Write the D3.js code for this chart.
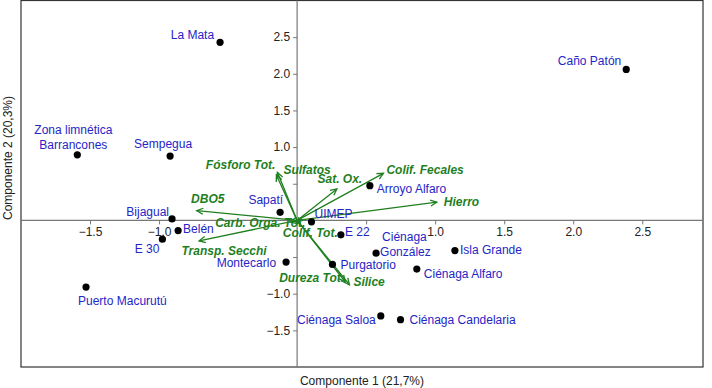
<!DOCTYPE html>
<html>
<head>
<meta charset="utf-8">
<script src="https://cdn.jsdelivr.net/npm/d3@7"></script>
<style>
  body { margin: 0; background: #fff; }
  svg { display: block; font-family: "Liberation Sans", Arial, sans-serif; }
</style>
</head>
<body>
<svg id="chart" width="712" height="388"></svg>
<script>
// sites (PCA scores)
const siteNames = ['La Mata', 'Caño Patón', 'Zona limnética\nBarrancones', 'Sempegua', 'Sapatí',
    'Bijagual', 'Belén', 'E 30', 'Puerto Macurutú', 'Montecarlo', 'UIMEP', 'E 22', 'Arroyo Alfaro',
    'Purgatorio', 'Ciénaga\nGonzález', 'Isla Grande', 'Ciénaga Alfaro', 'Ciénaga Saloa', 'Ciénaga Candelaria'];
const siteX = [-0.558, 2.384, -1.592, -0.92, -0.123, -0.906, -0.862, -0.976, -1.529, -0.08, 0.104, 0.317,
    0.527, 0.256, 0.572, 1.143, 0.867, 0.606, 0.749];
const siteY = [2.43, 2.06, 0.895, 0.877, 0.11, 0.02, -0.139, -0.256, -0.909, -0.569, -0.02, -0.197,
    0.474, -0.601, -0.447, -0.411, -0.664, -1.303, -1.354];

// variables (loadings)
const varNames = ['Fósforo Tot.', 'Sulfatos', 'Sat. Ox.', 'Colif. Fecales', 'Hierro', 'DBO5',
    'Transp. Secchi', 'Carb. Orga. Tot.', 'Colif. Tot.', 'Dureza Tot.', 'Silice'];
const varX = [-0.143, -0.15, 0.288, 0.625, 1.012, -0.727, -0.71, -0.05, 0.02, 0.348, 0.379];
const varY = [0.656, 0.62, 0.429, 0.642, 0.248, 0.133, -0.279, -0.02, -0.05, -0.837, -0.878];

const tickValues = [-1.5, -1.0, -0.5, 0.5, 1.0, 1.5, 2.0, 2.5];
const hiddenTicks = [-0.5, 0.5];

// label placement [anchor, dx, dy] relative to the point / arrow tip
const siteLabelPos = {
    'La Mata': ['end', -6, -7],
    'Caño Patón': ['end', -5, -8],
    'Zona limnética\nBarrancones': ['middle', -4, -25],
    'Sempegua': ['middle', -7, -12],
    'Sapatí': ['end', 3, -12],
    'Bijagual': ['end', -3, -7],
    'Belén': ['start', 5, -2],
    'E 30': ['end', -3, 10],
    'Puerto Macurutú': ['start', -8, 14],
    'Montecarlo': ['end', -10, 1],
    'UIMEP': ['start', 3, -8],
    'E 22': ['start', 4, -3],
    'Arroyo Alfaro': ['start', 7, 3],
    'Purgatorio': ['start', 8, 1],
    'Ciénaga\nGonzález': ['start', 6, -16],
    'Isla Grande': ['start', 5, -1],
    'Ciénaga Alfaro': ['start', 7, 5],
    'Ciénaga Saloa': ['end', -5, 4],
    'Ciénaga Candelaria': ['start', 9, 0]
};
const varLabelPos = {
    'Fósforo Tot.': ['end', -2, -7],
    'Sulfatos': ['start', 7, -5],
    'Sat. Ox.': ['middle', 3, -10],
    'Colif. Fecales': ['start', 3, -3],
    'Hierro': ['start', 7, 0],
    'DBO5': ['middle', 11, -12],
    'Transp. Secchi': ['middle', 25, 10],
    'Carb. Orga. Tot.': ['start', -75, 1],
    'Colif. Tot.': ['start', -17, 9],
    'Dureza Tot.': ['start', -66, -4],
    'Silice': ['start', 4, -3]
};

const blue = '#2525c6';
const green = '#1f7f1f';

const svg = d3.select('#chart');
const plotLeft = 21, plotRight = 703, plotTop = 0.5, plotBottom = 367;

const x = d3.scaleLinear().domain([-2, 2.94]).range([plotLeft, plotRight]);
const y = d3.scaleLinear().domain([-2, 3]).range([plotBottom, plotTop]);

// frame
svg.append('rect')
    .attr('x', plotLeft).attr('y', plotTop)
    .attr('width', plotRight - plotLeft).attr('height', plotBottom - plotTop)
    .attr('fill', 'none')
    .attr('stroke', '#333')
    .attr('stroke-width', 1.2);

const fmt = d => hiddenTicks.includes(d) ? '' : d3.format('.1f')(d);

const xAxis = svg.append('g')
    .attr('transform', `translate(0,${y(0)})`)
    .call(d3.axisBottom(x).tickValues(tickValues).tickFormat(fmt).tickSize(4).tickPadding(3));
const yAxis = svg.append('g')
    .attr('transform', `translate(${x(0)},0)`)
    .call(d3.axisLeft(y).tickValues(tickValues).tickFormat(fmt).tickSize(4).tickPadding(3));

[xAxis, yAxis].forEach(g => {
    g.select('.domain').remove();
    g.selectAll('.tick line').attr('stroke', '#777');
    g.selectAll('.tick text')
        .attr('fill', '#222')
        .style('font-size', '12px')
        .style('font-family', '"Liberation Sans", Arial, sans-serif');
});

// axis lines through origin
svg.append('line')
    .attr('x1', plotLeft).attr('x2', plotRight)
    .attr('y1', y(0)).attr('y2', y(0))
    .attr('stroke', '#777').attr('stroke-width', 1.2);
svg.append('line')
    .attr('x1', x(0)).attr('x2', x(0))
    .attr('y1', plotTop).attr('y2', plotBottom)
    .attr('stroke', '#777').attr('stroke-width', 1.2);

// axis titles
svg.append('text')
    .attr('x', (plotLeft + plotRight) / 2)
    .attr('y', 385)
    .attr('text-anchor', 'middle')
    .attr('fill', '#222')
    .style('font-size', '12px')
    .text('Componente 1 (21,7%)');
svg.append('text')
    .attr('transform', `translate(12,158) rotate(-90)`)
    .attr('text-anchor', 'middle')
    .attr('fill', '#222')
    .style('font-size', '12px')
    .text('Componente 2 (20,3%)');

// variable arrows
const vars = varNames.map((n, i) => ({ name: n, x: varX[i], y: varY[i] }));
const headLen = 7, headAng = Math.PI / 7;

const arrows = svg.append('g');
vars.forEach(v => {
    const x0 = x(0), y0 = y(0), x1 = x(v.x), y1 = y(v.y);
    const a = Math.atan2(y1 - y0, x1 - x0);
    arrows.append('line')
        .attr('x1', x0).attr('y1', y0)
        .attr('x2', x1).attr('y2', y1)
        .attr('stroke', green).attr('stroke-width', 1.3);
    const p1 = [x1 - headLen * Math.cos(a - headAng), y1 - headLen * Math.sin(a - headAng)];
    const p2 = [x1 - headLen * Math.cos(a + headAng), y1 - headLen * Math.sin(a + headAng)];
    arrows.append('path')
        .attr('d', `M${p1[0]},${p1[1]}L${x1},${y1}L${p2[0]},${p2[1]}`)
        .attr('fill', 'none')
        .attr('stroke', green).attr('stroke-width', 1.3);
});

// points
const sites = siteNames.map((n, i) => ({ name: n, x: siteX[i], y: siteY[i] }));
svg.append('g').selectAll('circle')
    .data(sites)
    .enter()
    .append('circle')
    .attr('cx', d => x(d.x))
    .attr('cy', d => y(d.y))
    .attr('r', 3.6)
    .attr('fill', '#000');

// site labels
sites.forEach(s => {
    const [anchor, dx, dy] = siteLabelPos[s.name];
    const lines = s.name.split('\n');
    const t = svg.append('text')
        .attr('x', x(s.x) + dx)
        .attr('y', y(s.y) + dy)
        .attr('text-anchor', anchor)
        .attr('dominant-baseline', 'central')
        .attr('fill', blue)
        .style('font-size', '12px');
    lines.forEach((l, i) => {
        t.append('tspan')
            .attr('x', x(s.x) + dx + (i > 0 && s.name.startsWith('Ciénaga') ? -2 : 0))
            .attr('dy', i === 0 ? 0 : 15)
            .text(l);
    });
});

// variable labels
vars.forEach(v => {
    const [anchor, dx, dy] = varLabelPos[v.name];
    svg.append('text')
        .attr('x', x(v.x) + dx)
        .attr('y', y(v.y) + dy)
        .attr('text-anchor', anchor)
        .attr('dominant-baseline', 'central')
        .attr('fill', green)
        .style('font-size', '12px')
        .style('font-weight', 'bold')
        .style('font-style', 'italic')
        .text(v.name);
});
</script>
</body>
</html>
